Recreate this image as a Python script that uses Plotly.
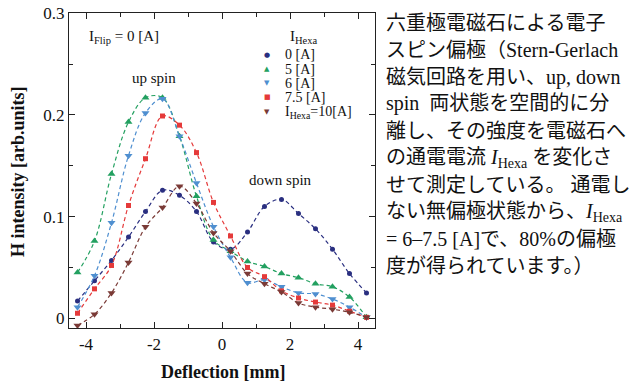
import plotly.graph_objects as go

# ---------------- data ----------------
deflection = [-4.25, -3.75, -3.25, -2.75, -2.25, -1.75, -1.25, -0.75, -0.25,
              0.25, 0.75, 1.25, 1.75, 2.25, 2.75, 3.25, 3.75, 4.25]

i_hexa_0 = [0.017, 0.037, 0.057, 0.080, 0.105, 0.126, 0.121, 0.105, 0.075,
            0.068, 0.085, 0.110, 0.117, 0.103, 0.088, 0.068, 0.044, 0.025]
i_hexa_5 = [0.045, 0.076, 0.142, 0.193, 0.217, 0.217, 0.179, 0.120, 0.077,
            0.066, 0.056, 0.051, 0.044, 0.040, 0.034, 0.031, 0.021, 0.001]
i_hexa_6 = [0.011, 0.042, 0.094, 0.160, 0.202, 0.216, 0.179, 0.133, 0.090,
            0.060, 0.035, 0.038, 0.031, 0.025, 0.024, 0.019, 0.011, 0.001]
i_hexa_75 = [0.005, 0.029, 0.052, 0.111, 0.157, 0.199, 0.190, 0.163, 0.114,
             0.081, 0.050, 0.041, 0.027, 0.020, 0.016, 0.013, 0.007, 0.001]
i_hexa_10 = [-0.007, 0.004, 0.025, 0.055, 0.090, 0.109, 0.130, 0.113, 0.084,
             0.066, 0.044, 0.034, 0.026, 0.015, 0.011, 0.009, 0.006, 0.001]

series_names = ["0 [A]", "5 [A]", "6 [A]", "7.5 [A]", "I<sub>Hexa</sub>=10[A]"]
series_values = [i_hexa_0, i_hexa_5, i_hexa_6, i_hexa_75, i_hexa_10]

x_tick_vals = [-4, -2, 0, 2, 4]
x_tick_text = ["-4", "-2", "0", "2", "4"]
y_tick_vals = [0, 0.1, 0.2, 0.3]
y_tick_text = ["0", "0.1", "0.2", "0.3"]

description_lines = [
    "六重極電磁石による電子",
    "スピン偏極（Stern-Gerlach",
    "磁気回路を用い、up, down",
    "spin\u00a0 両状態を空間的に分",
    "離し、その強度を電磁石へ",
    "の通電電流 <i>I</i><sub>Hexa</sub> を変化さ",
    "せて測定している。 通電し",
    "ない無偏極状態から、<i>I</i><sub>Hexa</sub>",
    "= 6–7.5 [A]で、80%の偏極",
    "度が得られています。）",
]

# ---------------- style ----------------
colors = ["#2a2f80", "#23a060", "#4f8fd0", "#e53a3a", "#7a3a36"]
symbols = ["circle", "triangle-up", "triangle-down", "square", "triangle-down"]
msizes = [5, 7, 7, 5, 7]
legend_glyphs = ["●", "▲", "▼", "■", "▼"]

W, H = 640, 387
L, R, T, B = 69, 375, 13, 328   # plot area in pixels
SERIF = "Liberation Serif"
JP = "Liberation Serif, Noto Sans CJK JP"


def px(xp):
    return (xp - L) / (R - L)


def py(yp):
    return (B - yp) / (B - T)


def note(xp, yp, text, size, family=SERIF, color="#111", xanchor="left", **kw):
    return dict(x=px(xp), y=py(yp), xref="paper", yref="paper", text=text,
                xanchor=xanchor, yanchor="middle", showarrow=False,
                font=dict(family=family, size=size, color=color), **kw)


fig = go.Figure()
for name, vals, c, s, ms in zip(series_names, series_values, colors, symbols, msizes):
    fig.add_trace(go.Scatter(
        x=deflection, y=vals, name=name, mode="lines+markers",
        line=dict(color=c, width=1.2, dash="4px,3px", shape="spline", smoothing=1.0),
        marker=dict(color=c, symbol=s, size=ms, line=dict(width=0)),
        showlegend=False,
    ))

annotations = []
# in-plot labels
annotations.append(note(87, 37, "I<sub>Flip</sub> = 0 [A]", 15))
annotations.append(note(154, 78, "up spin", 15, xanchor="center"))
annotations.append(note(280, 180, "down spin", 15, xanchor="center"))
# legend (title + entries)
annotations.append(note(288, 37, "I<sub>Hexa</sub>", 15))
leg_y = [55, 69, 83, 97, 112]
for i, (name, c, g) in enumerate(zip(series_names, colors, legend_glyphs)):
    annotations.append(note(267, leg_y[i], g, 7, family="DejaVu Sans", color=c,
                            xanchor="center"))
    annotations.append(note(283, leg_y[i], name, 14))

# axis titles
annotations.append(note(18, 172, "<b>H intensity [arb.units]</b>", 18,
                        xanchor="center", textangle=-90))
annotations.append(note(223, 372, "<b>Deflection [mm]</b>", 18, xanchor="center"))

# right-side description
for k, line in enumerate(description_lines):
    annotations.append(note(384, 23 + 27.0 * k, line, 20, family=JP))

axis_common = dict(
    showline=True, linecolor="#222", linewidth=1.2, mirror="ticks",
    ticks="inside", ticklen=6, tickwidth=1.2, tickcolor="#222",
    showgrid=False, zeroline=False, automargin=False,
    tickfont=dict(family=SERIF, size=17, color="#111"),
)

fig.update_xaxes(range=[-4.5, 4.5], tickvals=x_tick_vals, ticktext=x_tick_text,
                 minor=dict(dtick=1, tick0=-5, ticks="inside", ticklen=4,
                            tickcolor="#222", tickwidth=1.2),
                 **axis_common)
fig.update_yaxes(range=[-0.0095, 0.3003], tickvals=y_tick_vals, ticktext=y_tick_text,
                 minor=dict(dtick=0.05, tick0=0, ticks="inside", ticklen=4,
                            tickcolor="#222", tickwidth=1.2),
                 **axis_common)

fig.update_layout(
    width=W, height=H,
    margin=dict(l=L, r=W - R, t=T, b=H - B, pad=0),
    paper_bgcolor="white", plot_bgcolor="white",
    annotations=annotations,
    showlegend=False,
    font=dict(family=SERIF),
)

fig.write_html("out.html",
               config={"displayModeBar": False},
               post_script="document.body.style.margin='0';"
                           "document.body.style.overflow='hidden';")
